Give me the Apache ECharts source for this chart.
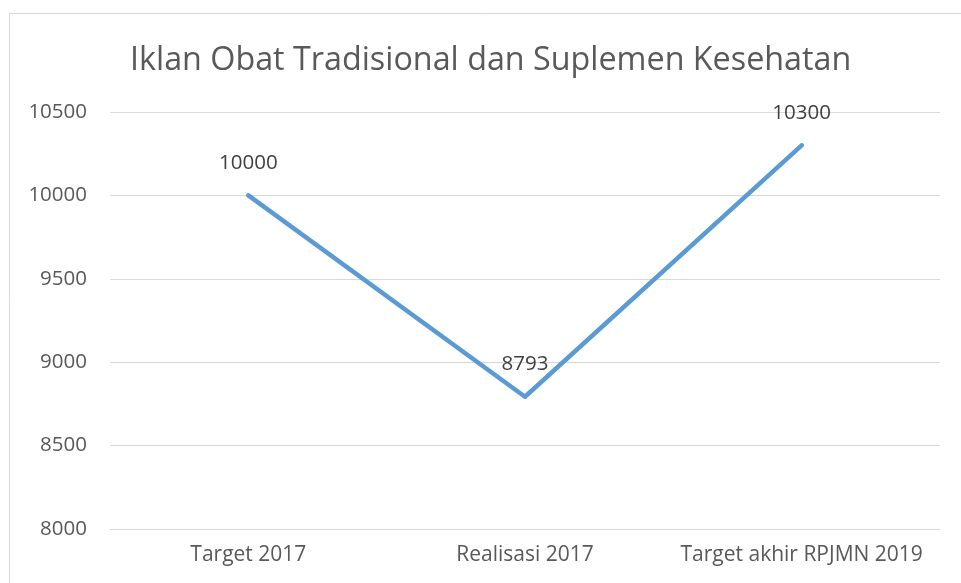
<!DOCTYPE html>
<html>
<head>
<meta charset="utf-8">
<script src="https://cdn.jsdelivr.net/npm/echarts@6/dist/echarts.min.js"></script>
<style>
  html, body { margin: 0; padding: 0; background: #fff; }
  #chart { width: 961px; height: 583px; }
</style>
</head>
<body>
<div id="chart"></div>
<script>
  // data
  const chartTitle = 'Iklan Obat Tradisional dan Suplemen Kesehatan';
  const categories = ['Target 2017', 'Realisasi 2017', 'Target akhir RPJMN 2019'];
  const values = [10000, 8793, 10300];

  const textColor = '#595959';
  const fontFamily = '"Open Sans", "Noto Sans", sans-serif';

  let myChart = echarts.init(document.getElementById('chart'));
  let option = {
    animation: false,
    textStyle: { fontFamily: fontFamily },
    graphic: [{
      type: 'rect',
      shape: { x: 9.5, y: 13.5, width: 980, height: 600 },
      style: { fill: 'none', stroke: '#d9d9d9', lineWidth: 1 },
      silent: true
    }],
    title: {
      text: chartTitle,
      left: 125,
      top: 40,
      textStyle: {
        color: textColor,
        fontSize: 32.3,
        fontWeight: 'normal',
        fontFamily: fontFamily
      }
    },
    grid: {
      left: 110,
      right: 21,
      top: 112,
      bottom: 54,
      containLabel: false
    },
    xAxis: {
      type: 'category',
      data: categories,
      boundaryGap: true,
      axisLine: { show: true, lineStyle: { color: '#d9d9d9' } },
      axisTick: { show: false },
      axisLabel: { color: textColor, fontSize: 21, margin: 16, interval: 0 }
    },
    yAxis: {
      type: 'value',
      min: 8000,
      max: 10500,
      interval: 500,
      axisLine: { show: false },
      axisTick: { show: false },
      axisLabel: { color: textColor, fontSize: 20.5, margin: 23, formatter: v => String(v) },
      splitLine: { lineStyle: { color: '#d9d9d9', width: 1 } }
    },
    series: [{
      type: 'line',
      data: values,
      symbol: 'circle',
      symbolSize: 4,
      showSymbol: true,
      itemStyle: { color: '#5b9bd5' },
      lineStyle: { color: '#5b9bd5', width: 4.5, cap: 'round', join: 'round' },
      label: {
        show: true,
        position: 'top',
        distance: 20,
        color: '#404040',
        fontSize: 20.5,
        fontFamily: fontFamily,
        formatter: p => String(p.value)
      }
    }]
  };
  option && myChart.setOption(option);
</script>
</body>
</html>
